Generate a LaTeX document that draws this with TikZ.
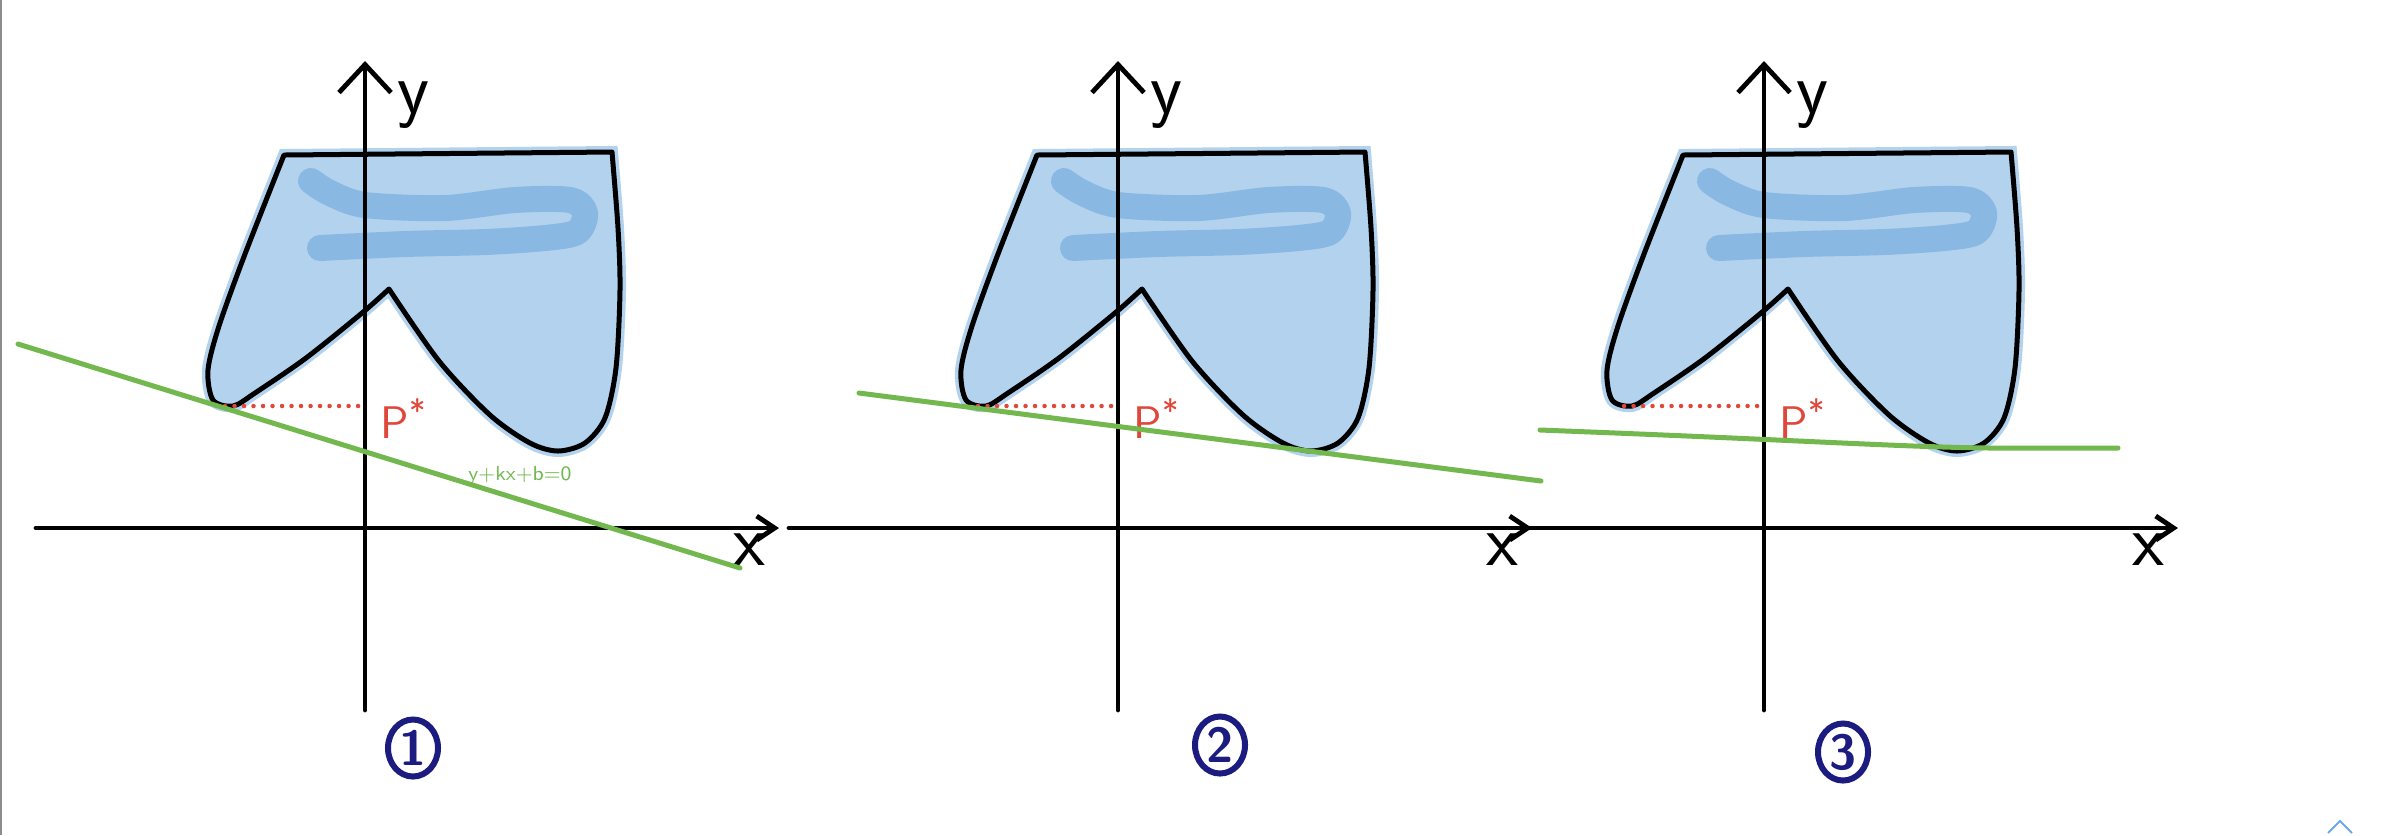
\documentclass[tikz,border=0pt]{standalone}
\usepackage{fontspec}
\usepackage{tikz}
\usetikzlibrary{arrows.meta, shapes.geometric}
\definecolor{paintblue}{HTML}{B3D2EE}
\definecolor{brushblue}{HTML}{89B8E2}
\definecolor{hullred}{HTML}{E0473A}
\definecolor{lineGreen}{HTML}{72B84E}
\definecolor{inkblue}{HTML}{1B1B80}
\definecolor{uiblue}{HTML}{6EA6EE}
\definecolor{edgegray}{HTML}{8C8C8C}

\begin{document}
\begin{tikzpicture}[
  x=0.01cm, y=-0.01cm,
  font=\sffamily,
  axis/.style={line width=0.048cm, black, line cap=round},
  yarr/.style={axis, -{Straight Barb[length=0.28cm, width=0.52cm]}},
  xarr/.style={axis, -{Straight Barb[length=0.18cm, width=0.24cm]}},
  region/.style={fill=paintblue, draw=black, line width=0.05cm, line join=round,
                 preaction={draw=paintblue, line width=0.12cm}},
  brush/.style={brushblue, line width=0.26cm, line cap=round, line join=round},
  dots/.style={hullred, line width=0.045cm, line cap=round, dash pattern=on 0pt off 0.095cm},
  pstar/.style={text=hullred, inner sep=0pt, font=\sffamily\fontsize{13}{15}\selectfont},
  axlab/.style={inner sep=0pt, font=\sffamily\fontsize{21}{24}\selectfont},
  tangent/.style={lineGreen, line width=0.05cm, line cap=round},
  circnum/.style={ellipse, draw=inkblue, line width=0.06cm, text=inkblue,
                  minimum width=0.5cm, minimum height=0.57cm, inner sep=0pt,
                  font=\sffamily\bfseries\fontsize{14}{16}\selectfont}
]
  \useasboundingbox (0,0) rectangle (2388,835);
  \draw[edgegray, line width=0.02cm] (1,0) -- (1,835);

  % three panels, same region
  \foreach \ox/\n/\cx/\cy in {365/1/48/220, 1118/2/102/217, 1764/3/79/224}{
    \begin{scope}[shift={(\ox,528)}]
      \draw[region] (-81,-373) -- (247,-376)
        -- plot[smooth] coordinates {(247,-376) (253,-300) (255,-238) (251,-160) (240,-110)
             (220,-85) (193,-77) (165,-85) (125,-113) (74,-167) (24,-239)}
        -- plot[smooth] coordinates {(24,-239) (-3,-215) (-59,-170) (-110,-135) (-132,-122)
             (-152,-128) (-157,-158) (-146,-202) (-120,-274) (-81,-373)}
        -- cycle;
      \draw[brush] plot[smooth] coordinates {(-54,-347) (-35,-335) (0,-323) (80,-320)
             (150,-328) (205,-328) (220,-315) (212,-296) (180,-290) (120,-286) (40,-284) (-45,-280)};
      \draw[yarr] (0,182) -- (0,-467);
      \draw[xarr] (-329,0) -- (414,0);
      \node[axlab, anchor=base] (ylab\n) at (48,-415) {y};
      \node[axlab, anchor=base] (xlab\n) at (384,37) {x};
      \coordinate (lobe\n) at (-140,-122);
      \coordinate (foot\n) at (0,-122);
      \draw[dots] (lobe\n) -- (foot\n);
      \node[pstar, anchor=base west] (pst\n) at (15,-90) {P\textsuperscript{*}};
      \node[circnum] (num\n) at (\cx,\cy) {\n};
    \end{scope}
  }

  % supporting lines
  \draw[tangent] (18,344) -- (740,568);
  \draw[tangent] (859,393) -- (1541,481);
  \draw[tangent] (1540,430) .. controls (1800,440) and (1900,447) .. (1990,448) -- (2118,448);
  \node[text=lineGreen, inner sep=0pt, font=\sffamily\fontsize{5.8}{7}\selectfont]
    (eq) at (520,475) {y+kx+b=0};

  \draw[uiblue, line width=0.02cm] (2328,833) -- (2340,821) -- (2352,833);
\end{tikzpicture}
\end{document}
